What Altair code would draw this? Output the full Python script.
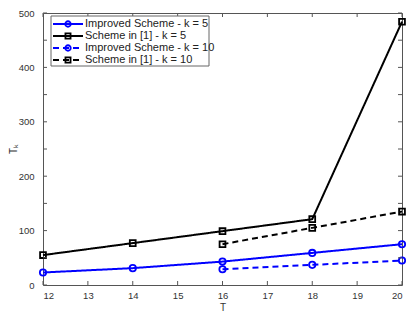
import altair as alt
import pandas as pd

# ---- data ----
T5 = [12, 14, 16, 18, 20]
imp_k5 = [23, 31, 43, 59, 75]
sch_k5 = [55, 77, 99, 121, 484]
T10 = [16, 18, 20]
imp_k10 = [29, 37, 45]
sch_k10 = [75, 105, 135]

series_names = ["Improved Scheme - k = 5", "Scheme in [1] - k = 5",
                "Improved Scheme - k = 10", "Scheme in [1] - k = 10"]
series_x = [T5, T5, T10, T10]
series_y = [imp_k5, sch_k5, imp_k10, sch_k10]
colors = ["#0000ff", "#000000", "#0000ff", "#000000"]
dashes = [[1, 0], [1, 0], [6, 4], [6, 4]]
shapes = ["circle", "square", "circle", "square"]
x_ticks = list(range(12, 21))
y_ticks = list(range(0, 501, 50))

W, H = 359, 272
FONT = "Liberation Sans"
AX = "#555555"

xs = alt.Scale(domain=[12, 20], nice=False, zero=False)
ys = alt.Scale(domain=[0, 500], nice=False)

layers = []
for name, xv, yv, c, d, s in zip(series_names, series_x, series_y, colors, dashes, shapes):
    df = pd.DataFrame({"T": xv, "v": yv, "series": name})
    base = alt.Chart(df).encode(
        x=alt.X("T:Q", scale=xs,
                axis=alt.Axis(values=x_ticks, domain=False, ticks=False, grid=False,
                              title="T", labelPadding=5, titlePadding=3)),
        y=alt.Y("v:Q", scale=ys,
                axis=alt.Axis(values=y_ticks, domain=False, ticks=False, grid=False,
                              title="Tₖ", labelPadding=9, titlePadding=0)),
    )
    layers.append(base.mark_line(color=c, strokeWidth=2, strokeDash=d))
    layers.append(base.mark_point(shape=s, filled=False, color=c,
                                  size=40 if s == "circle" else 34, strokeWidth=1.8, opacity=1))

# inward tick marks on all four sides
xt = pd.DataFrame({"t": x_ticks})
yt = pd.DataFrame({"t": y_ticks})
tick_style = dict(color=AX, strokeWidth=1)
layers.append(alt.Chart(xt).mark_rule(**tick_style).encode(
    x=alt.X("t:Q", scale=xs), y=alt.value(H), y2=alt.value(H - 4)))
layers.append(alt.Chart(xt).mark_rule(**tick_style).encode(
    x=alt.X("t:Q", scale=xs), y=alt.value(0), y2=alt.value(4)))
layers.append(alt.Chart(yt).mark_rule(**tick_style).encode(
    y=alt.Y("t:Q", scale=ys), x=alt.value(0), x2=alt.value(4)))
layers.append(alt.Chart(yt).mark_rule(**tick_style).encode(
    y=alt.Y("t:Q", scale=ys), x=alt.value(W), x2=alt.value(W - 4)))

# manual legend box
one = pd.DataFrame({"a": [0]})
layers.append(alt.Chart(one).mark_rect(fill="white", stroke="#666666", strokeWidth=1).encode(
    x=alt.value(8), x2=alt.value(166), y=alt.value(3), y2=alt.value(53)))
row_y = [11, 23, 35, 47]
for name, c, d, s, ry in zip(series_names, colors, dashes, shapes, row_y):
    ld = pd.DataFrame({"label": [name]})
    layers.append(alt.Chart(ld).mark_rule(color=c, strokeWidth=2, strokeDash=d).encode(
        x=alt.value(10), x2=alt.value(40), y=alt.value(ry)))
    layers.append(alt.Chart(ld).mark_point(shape=s, filled=False, color=c,
                                          size=30 if s == "circle" else 26, strokeWidth=1.8,
                                          opacity=1).encode(
        x=alt.value(25), y=alt.value(ry)))
    layers.append(alt.Chart(ld).mark_text(align="left", baseline="middle", font=FONT,
                                          fontSize=11, color="#222222").encode(
        x=alt.value(42), y=alt.value(ry), text="label:N"))

chart = alt.layer(*layers).properties(
    width=W, height=H,
    autosize=alt.AutoSizeParams(type="none"),
    padding={"left": 35, "top": 5, "right": 5, "bottom": 27},
).configure_view(stroke=AX, strokeWidth=1).configure_axis(
    labelFont=FONT, titleFont=FONT, labelFontSize=9.5, titleFontSize=10,
    labelColor="#333333", titleColor="#333333", titleFontWeight="normal",
)

chart.save("out.html", embed_options={"renderer": "svg", "actions": False})
